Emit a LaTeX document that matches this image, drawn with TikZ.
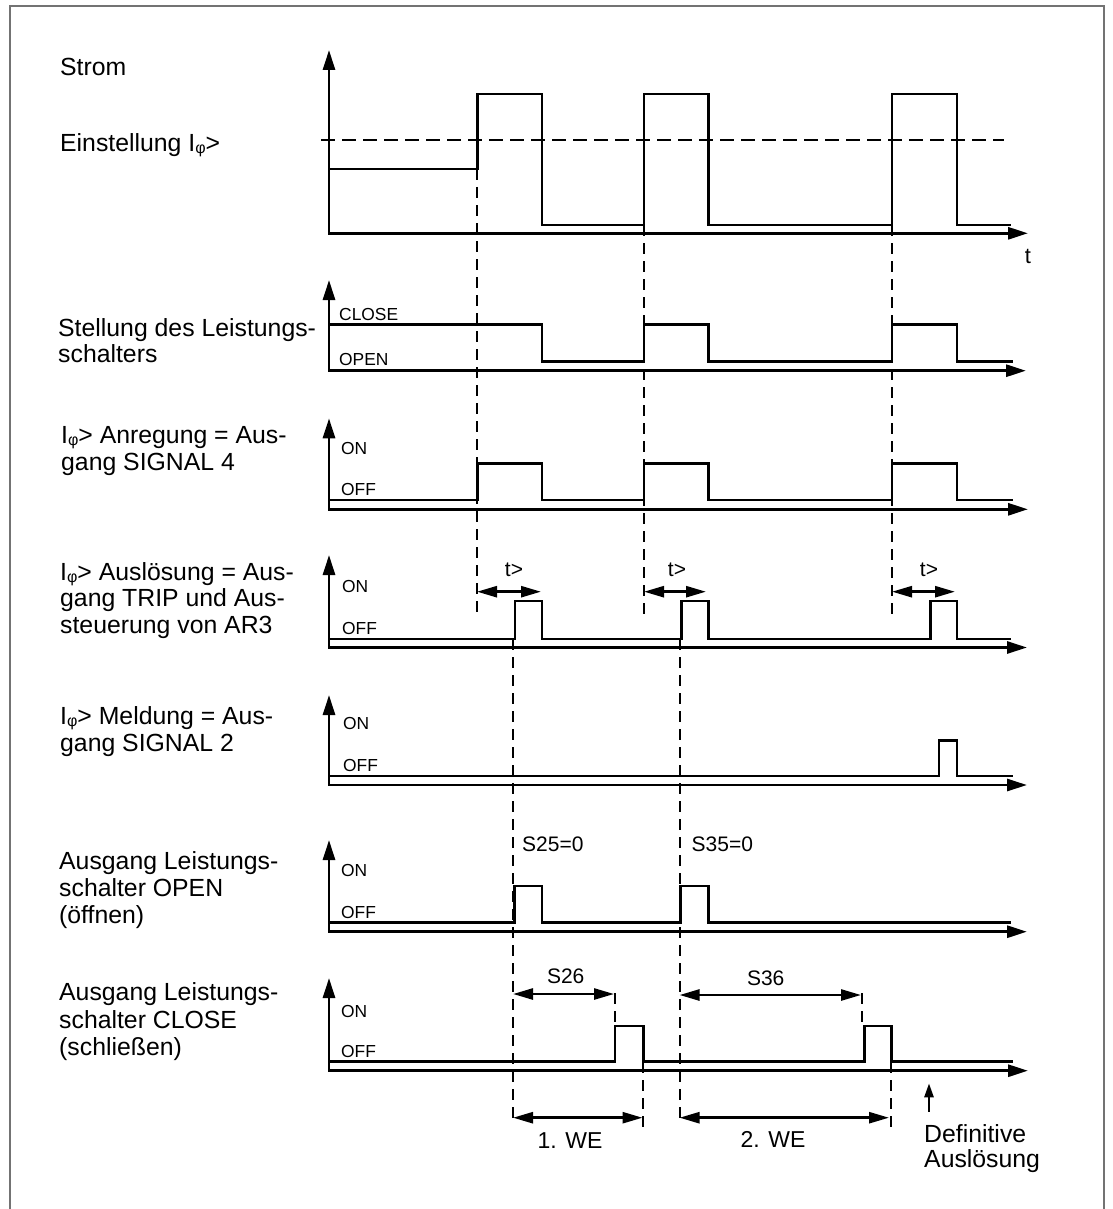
\documentclass[tikz,border=0pt]{standalone}
\usepackage{fontspec}
\setmainfont{Liberation Sans}
\usetikzlibrary{arrows.meta}
\newcommand{\myphi}{\raisebox{-2pt}{\fontsize{16}{16}\selectfont φ}}
\begin{document}
\begin{tikzpicture}[x=1pt,y=-1pt,
  sig/.style={line width=2.9pt, line join=miter},
  axisln/.style={line width=2.9pt, line join=miter, {Triangle[length=20pt,width=12pt]}-{Triangle[length=20pt,width=12pt]}},
  dashln/.style={line width=2pt, dash pattern=on 11pt off 7pt},
  thrln/.style={line width=2pt, dash pattern=on 14pt off 7pt},
  dimarrow/.style={line width=2.6pt, {Triangle[length=20pt,width=11pt]}-{Triangle[length=20pt,width=11pt]}},
  uparrow/.style={line width=2.6pt, -{Triangle[length=14pt,width=9pt]}},
  lbl/.style={anchor=base west, inner sep=0pt, font=\fontsize{24.8}{27}\selectfont},
  lvl/.style={anchor=base west, inner sep=0pt, font=\fontsize{17.4}{18}\selectfont},
  ann/.style={anchor=base, inner sep=0pt, font=\fontsize{21}{22}\selectfont},
  annw/.style={anchor=base west, inner sep=0pt, font=\fontsize{21}{22}\selectfont},
]
\useasboundingbox (0,0) rectangle (1112,1209);
\draw[line width=2pt, black!55] (10,1209) -- (10,6) -- (1104,6) -- (1104,1209);

% ---------- labels ----------
\node[lbl] (strom) at (60,76) {Strom};
\node[lbl] (einst) at (60,151.5) {Einstellung I\myphi>};
\node[lbl] (stA) at (58,336) {Stellung des Leistungs-};
\node[lbl] (stB) at (58,362) {schalters};
\node[lbl] (anA) at (61,443.5) {I\myphi> Anregung = Aus-};
\node[lbl] (anB) at (61,470) {gang SIGNAL 4};
\node[lbl] (auA) at (60,580) {I\myphi> Auslösung = Aus-};
\node[lbl] (auB) at (60,606.7) {gang TRIP und Aus-};
\node[lbl] (auC) at (60,633.3) {steuerung von AR3};
\node[lbl] (meA) at (60,724.3) {I\myphi> Meldung = Aus-};
\node[lbl] (meB) at (60,751) {gang SIGNAL 2};
\node[lbl] (opA) at (59,869.5) {Ausgang Leistungs-};
\node[lbl] (opB) at (59,896.5) {schalter OPEN};
\node[lbl] (opC) at (59,923.3) {(öffnen)};
\node[lbl] (clA) at (59,1000.7) {Ausgang Leistungs-};
\node[lbl] (clB) at (59,1028) {schalter CLOSE};
\node[lbl] (clC) at (59,1055) {(schließen)};

% ---------- level labels ----------
\node[lvl] (close2) at (339,320.5) {CLOSE};
\node[lvl] (open2) at (339,365) {OPEN};
\node[lvl] (on3) at (341,454) {ON};
\node[lvl] (off3) at (341,495.5) {OFF};
\node[lvl] (on4) at (342,592) {ON};
\node[lvl] (off4) at (342,634) {OFF};
\node[lvl] (on5) at (343,729.3) {ON};
\node[lvl] (off5) at (343,771) {OFF};
\node[lvl] (on6) at (341,876.7) {ON};
\node[lvl] (off6) at (341,918) {OFF};
\node[lvl] (on7) at (341,1017.3) {ON};
\node[lvl] (off7) at (341,1057.5) {OFF};

% ---------- diagram 1: Strom ----------
\draw[axisln] (329,50) -- (329,233.3) -- (1028,233.3);
\draw[thrln] (321,140) -- (1004,140);
\draw[sig] (329,169) -- (477.5,169) -- (477.5,94) -- (542,94) -- (542,225) -- (644,225) -- (644,94) -- (708.6,94) -- (708.6,225) -- (892,225) -- (892,94) -- (957,94) -- (957,225) -- (1011,225);
\node[inner sep=0pt, anchor=base, font=\fontsize{22}{22}\selectfont] (tlbl) at (1028,263.3) {t};

% ---------- diagram 2: Stellung ----------
\draw[axisln] (329,280) -- (329,370.7) -- (1026,370.7);
\draw[sig] (329,324.3) -- (542,324.3) -- (542,361.7) -- (644,361.7) -- (644,324.3) -- (708.6,324.3) -- (708.6,361.7) -- (892,361.7) -- (892,324.3) -- (957,324.3) -- (957,361.7) -- (1013,361.7);

% ---------- diagram 3: Anregung ----------
\draw[axisln] (329,418.3) -- (329,509.3) -- (1028,509.3);
\draw[sig] (329,500) -- (477.5,500) -- (477.5,463.3) -- (542,463.3) -- (542,500) -- (644,500) -- (644,463.3) -- (708.6,463.3) -- (708.6,500) -- (892,500) -- (892,463.3) -- (957,463.3) -- (957,500) -- (1013,500);

% ---------- diagram 4: Ausloesung ----------
\draw[axisln] (329,555) -- (329,647.5) -- (1027,647.5);
\draw[sig] (329,639) -- (515,639) -- (515,601) -- (542,601) -- (542,639) -- (681.6,639) -- (681.6,601) -- (708.6,601) -- (708.6,639) -- (930.5,639) -- (930.5,601) -- (957,601) -- (957,639) -- (1011,639);

% ---------- diagram 5: Meldung ----------
\draw[axisln] (329,695) -- (329,785) -- (1027,785);
\draw[sig] (329,776) -- (939,776) -- (939,740.7) -- (957,740.7) -- (957,776) -- (1013,776);

% ---------- diagram 6: Ausgang OPEN ----------
\draw[axisln] (329,840) -- (329,931.7) -- (1027,931.7);
\draw[sig] (329,922.7) -- (514.5,922.7) -- (514.5,886) -- (542,886) -- (542,922.7) -- (680.5,922.7) -- (680.5,886) -- (708.6,886) -- (708.6,922.7) -- (1011,922.7);

% ---------- diagram 7: Ausgang CLOSE ----------
\draw[axisln] (329,978) -- (329,1070.7) -- (1028,1070.7);
\draw[sig] (329,1061.7) -- (615,1061.7) -- (615,1026) -- (643.5,1026) -- (643.5,1061.7) -- (864.3,1061.7) -- (864.3,1026) -- (891.7,1026) -- (891.7,1061.7) -- (1012.7,1061.7);

% ---------- dashed guide lines ----------
\draw[dashln] (477,169) -- (477,616);
\draw[dashln] (643.5,225) -- (643.5,618);
\draw[dashln] (891.5,225) -- (891.5,617);
\draw[dashln] (513,639) -- (513,1120);
\draw[dashln] (679.5,639) -- (679.5,1122);
\draw[dashln] (614.6,993) -- (614.6,1024);
\draw[dashln] (862.3,993) -- (862.3,1024);
\draw[dashln] (643,1062) -- (643,1128);
\draw[dashln] (891,1062) -- (891,1128);

% ---------- dimension arrows ----------
\draw[dimarrow] (477,591.7) -- (541,591.7);
\draw[dimarrow] (644,591.7) -- (706,591.7);
\draw[dimarrow] (892,591.7) -- (955,591.7);
\draw[dimarrow] (513,994) -- (614,994);
\draw[dimarrow] (679.5,995) -- (861,995);
\draw[dimarrow] (513,1117.7) -- (642.5,1117.7);
\draw[dimarrow] (679.5,1117.7) -- (889,1117.7);
\draw[uparrow] (929,1111.7) -- (929,1083.3);

% ---------- annotations ----------
\node[ann] (t1) at (514,576.7) {t>};
\node[ann] (t2) at (677,576.7) {t>};
\node[ann] (t3) at (929,576.7) {t>};
\node[annw] (s25) at (522,851) {S25=0};
\node[annw] (s35) at (691.5,851.5) {S35=0};
\node[ann] (s26) at (565.7,983.3) {S26};
\node[ann] (s36) at (765.7,985) {S36};
\node[ann, font=\fontsize{23}{24}\selectfont] (we1) at (570,1148.3) {1. WE};
\node[ann, font=\fontsize{23}{24}\selectfont] (we2) at (773,1147) {2. WE};
\node[lbl] (defA) at (924,1142) {Definitive};
\node[lbl] (defB) at (924,1167.3) {Auslösung};
\end{tikzpicture}
\end{document}
